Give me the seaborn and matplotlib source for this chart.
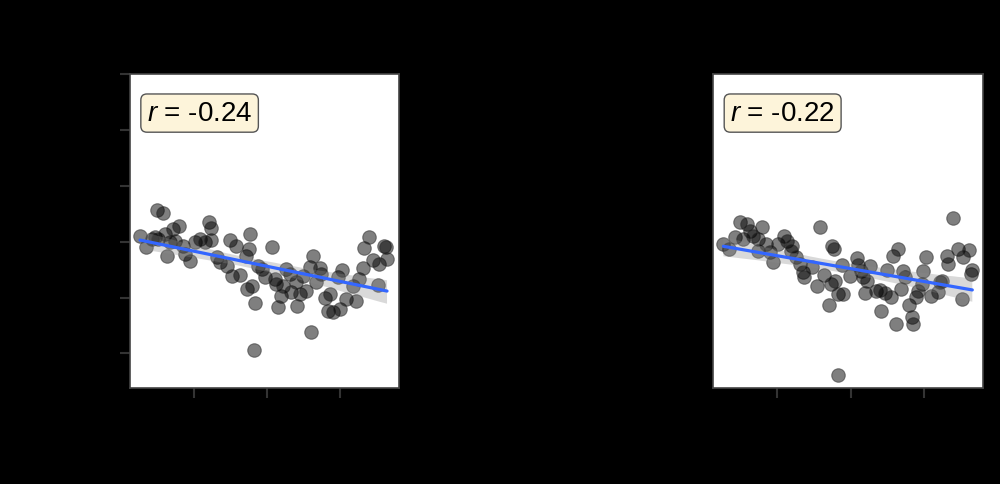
import matplotlib
matplotlib.use("Agg")
import matplotlib.pyplot as plt
from matplotlib.collections import PolyCollection
import numpy as np
import pandas as pd
import seaborn as sns

# Panel A values
x_a = [2.62, 3.40, 4.22, 4.67, 4.90, 5.72, 5.12, 6.04, 6.35, 6.72, 7.17, 7.95, 7.40, 8.54,
       8.77, 9.45, 10.14, 10.82, 11.50, 12.09, 12.28, 12.30, 13.10, 13.55, 14.47, 14.92,
       15.83, 15.23, 16.37, 17.10, 17.55, 17.64, 17.27, 17.96, 18.43, 18.20, 18.78, 19.30,
       19.80, 20.75, 21.07, 21.30, 21.98, 21.52, 22.20, 22.66, 23.11, 23.35, 24.03, 24.17,
       24.48, 24.93, 25.40, 25.85, 26.30, 26.08, 26.76, 27.21, 27.44, 27.90, 28.58, 28.35,
       29.03, 29.95, 29.71, 30.31, 30.86, 31.76, 32.23, 32.68, 33.13, 33.26, 34.04, 34.49,
       35.17, 35.41, 36.09, 36.32, 36.46]
y_a = [2.10, 1.90, 2.04, 2.09, 2.56, 2.52, 2.05, 2.14, 1.74, 2.00, 2.23, 2.28, 2.02, 1.93,
       1.78, 1.66, 2.00, 2.05, 1.99, 2.36, 2.24, 2.03, 1.72, 1.63, 1.57, 2.03,
       1.93, 1.39, 1.41, 1.75, 1.87, 2.14, 1.15, 1.20, 0.90, 0.06, 1.57, 1.51,
       1.36, 1.90, 1.33, 1.24, 1.02, 0.83, 1.21, 1.51, 1.42, 1.10, 1.27, 0.85,
       1.06, 1.39, 1.12, 1.54, 1.74, 0.38, 1.27, 1.53, 1.42, 0.99, 1.06, 0.76,
       0.74, 0.80, 1.36, 1.50, 0.97, 1.21, 0.94, 1.33, 1.53, 1.89, 2.09, 1.68,
       1.23, 1.60, 1.93, 1.90, 1.69]

# Panel B values
x_b = [2.63, 3.41, 4.23, 4.91, 5.83, 5.36, 6.28, 6.73, 7.33, 7.95, 7.41, 8.42, 9.00, 9.45,
       10.14, 10.91, 11.28, 12.05, 11.87, 12.51, 13.10, 13.55, 13.68, 14.69, 15.38, 15.83,
       16.41, 17.05, 17.50, 17.78, 17.33, 17.87, 18.32, 18.87, 19.00, 19.92, 20.83, 21.05,
       21.42, 21.73, 21.96, 22.65, 22.20, 23.42, 24.01, 24.15, 24.69, 24.93, 25.51, 25.83,
       26.43, 26.15, 26.88, 27.19, 27.42, 27.97, 28.42, 28.55, 28.88, 29.24, 29.92, 29.70,
       30.29, 30.97, 31.96, 32.20, 32.51, 33.11, 33.33, 34.01, 34.61, 35.16, 35.38, 36.15,
       36.38, 36.60, 18.24]
y_b = [1.96, 1.87, 2.08, 2.35, 2.32, 2.05, 2.20, 2.11, 2.05, 2.26, 1.84, 1.96, 1.81, 1.64,
       1.96, 2.11, 2.02, 1.93, 1.84, 1.72, 1.60, 1.45, 1.36, 1.54, 1.21, 2.26,
       1.41, 0.87, 1.92, 1.87, 1.24, 1.30, 1.06, 1.59, 1.06, 1.39, 1.71, 1.59,
       1.47, 1.36, 1.08, 1.57, 1.30, 1.12, 1.14, 0.76, 1.08, 1.50, 1.01, 1.75,
       1.87, 0.53, 1.15, 1.48, 1.36, 0.87, 0.65, 0.53, 1.01, 1.12, 1.47, 1.24,
       1.72, 1.02, 1.10, 1.27, 1.30, 1.74, 1.60, 2.42, 1.87, 0.97, 1.72, 1.85,
       1.42, 1.50, -0.39]

r_labels = ["-0.24", "-0.22"]
x_ticks = [10, 20, 30]
y_ticks = [0, 1, 2, 3, 4, 5]

sns.set_style("ticks")
plt.rcParams['font.family'] = ['Liberation Sans', 'DejaVu Sans']
plt.rcParams['mathtext.fontset'] = 'custom'
plt.rcParams['mathtext.it'] = 'Liberation Sans:italic'
plt.rcParams['mathtext.rm'] = 'Liberation Sans'

fig = plt.figure(figsize=(10, 4.85), dpi=100, facecolor='black')
ax_a = fig.add_axes([0.130, 0.198, 0.269, 0.647])
ax_b = fig.add_axes([0.7133, 0.198, 0.270, 0.647])

panels = [(ax_a, x_a, y_a, r_labels[0]), (ax_b, x_b, y_b, r_labels[1])]

for ax, xs, ys, r_txt in panels:
    df = pd.DataFrame({"x": xs, "y": ys})
    ax.set_facecolor('white')
    sns.regplot(data=df, x="x", y="y", ax=ax, color='black', seed=0,
                scatter_kws={'s': 95, 'alpha': 0.5, 'edgecolor': '#222222', 'linewidths': 0.8},
                line_kws={'color': '#3366FF', 'lw': 2.3})
    # grey confidence band, as in the original
    for coll in ax.collections:
        if isinstance(coll, PolyCollection):
            coll.set_facecolor('#8a8a8a')
            coll.set_alpha(0.32)
            coll.set_edgecolor('none')
    ax.set_xlim(1.25, 38.1)
    ax.set_ylim(-0.62, 5.0)
    ax.set_xticks(x_ticks)
    ax.set_xlabel("")
    ax.set_ylabel("")
    for sp in ax.spines.values():
        sp.set_color('#444444')
        sp.set_linewidth(1.2)
    ax.tick_params(colors='#333333', length=7, width=1.5, labelcolor='black', labelsize=13)
    ax.text(0.063, 0.876, r"$r$ = " + r_txt, transform=ax.transAxes, fontsize=20,
            va='center', ha='left', color='black',
            bbox=dict(boxstyle='round,pad=0.22', fc='#fdf4da', ec='#555555', lw=1.0))

ax_a.set_yticks(y_ticks)
ax_b.set_yticks([])

fig.savefig("out.png", dpi=100, facecolor='black')
